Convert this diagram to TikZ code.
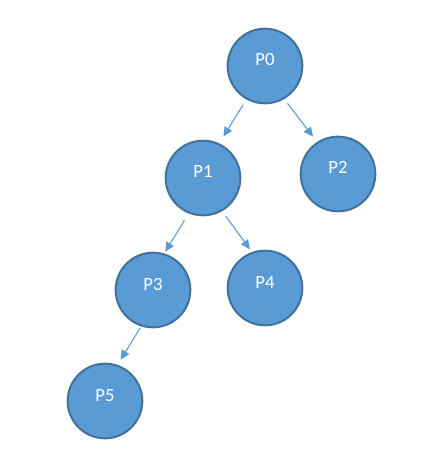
\documentclass[tikz,border=0pt]{standalone}
\usepackage{fontspec}
\setmainfont{Carlito}
\usepackage{xcolor}
\usetikzlibrary{arrows.meta}
\definecolor{procfill}{HTML}{5B9BD5}
\definecolor{procline}{HTML}{41719C}
\tikzset{
    proc/.style={circle, fill=procfill, draw=procline, line width=1.5pt,
        minimum size=56pt, inner sep=0pt, text=white,
        font=\fontsize{14pt}{16pt}\selectfont, text height=9pt, text depth=9pt},
    link/.style={draw=procfill, line width=0.8pt, -{Triangle[length=7pt,width=6.5pt]}}
}

\begin{document}
\begin{tikzpicture}[x=0.75pt,y=-0.75pt]
    		\useasboundingbox (0,0) rectangle (423,466);
    		\node[proc] (P0) at (265,66) {P0};
    		\node[proc] (P1) at (203,178) {P1};
    		\node[proc] (P2) at (338,174) {P2};
    		\node[proc] (P3) at (153,290) {P3};
    		\node[proc] (P4) at (265,288) {P4};
    		\node[proc] (P5) at (105,401) {P5};
    		\draw[link, shorten <=4.5pt, shorten >=6pt] (P0.241) -- (P1.65);
    		\draw[link, shorten <=4pt, shorten >=5pt] (P0.300) -- (P2.123);
    		\draw[link, shorten <=6pt, shorten >=1.5pt] (P1.248) -- (P3.73);
    		\draw[link, shorten <=4.5pt, shorten >=2.5pt] (P1.300) -- (P4.110);
    		\draw[link, shorten <=1pt, shorten >=4.5pt] (P3.252) -- (P5.71);
\end{tikzpicture}
\end{document}
